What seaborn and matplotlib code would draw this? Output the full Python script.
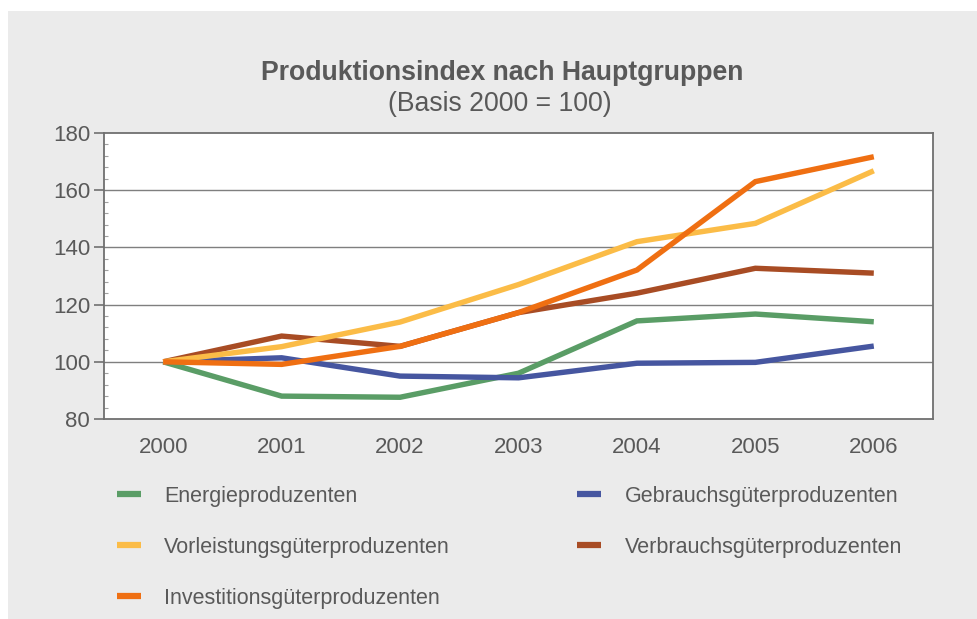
import matplotlib
matplotlib.use("Agg")
import matplotlib.pyplot as plt
from matplotlib.patches import Rectangle
from matplotlib.lines import Line2D
from matplotlib.ticker import MultipleLocator
import seaborn as sns
import pandas as pd

years = [2000, 2001, 2002, 2003, 2004, 2005, 2006]
energie = [100, 88.0, 87.6, 96.0, 114.3, 116.7, 114.0]
vorleistung = [100, 105.3, 113.9, 127.0, 142.0, 148.4, 166.8]
investition = [100, 99.1, 105.4, 117.2, 132.1, 163.0, 171.7]
gebrauch = [100, 101.4, 95.0, 94.4, 99.5, 99.8, 105.5]
verbrauch = [100, 109.0, 105.4, 117.2, 124.0, 132.7, 131.0]

series_names = ["Energieproduzenten", "Vorleistungsgüterproduzenten",
                "Investitionsgüterproduzenten", "Gebrauchsgüterproduzenten",
                "Verbrauchsgüterproduzenten"]
series_values = [energie, vorleistung, investition, gebrauch, verbrauch]
colors = ["#5a9d66", "#fbbc47", "#ef6f12", "#4656a0", "#a84c24"]
draw_order = ["Energieproduzenten", "Gebrauchsgüterproduzenten",
              "Verbrauchsgüterproduzenten", "Vorleistungsgüterproduzenten",
              "Investitionsgüterproduzenten"]

title = "Produktionsindex nach Hauptgruppen"
subtitle = "(Basis 2000 = 100)"

rows = []
for name, vals in zip(series_names, series_values):
    for y, v in zip(years, vals):
        rows.append({"Jahr": y, "Index": v, "Gruppe": name})
df = pd.DataFrame(rows)

sns.set_style("white")
plt.rcParams["font.family"] = ["Liberation Sans", "DejaVu Sans"]

text_col = "#595959"
spine_col = "#707070"

fig = plt.figure(figsize=(9.77, 6.19), dpi=100, facecolor="white")
fig.patches.append(Rectangle((8 / 977, 0), 1 - 8 / 977, 1 - 11 / 619,
                             transform=fig.transFigure, facecolor="#ebebeb",
                             edgecolor="none", zorder=-10))

ax = fig.add_axes([104 / 977, (619 - 419) / 619, 829 / 977, 286 / 619])
ax.set_facecolor("white")

palette = dict(zip(series_names, colors))
sns.lineplot(data=df, x="Jahr", y="Index", hue="Gruppe", hue_order=draw_order,
             palette=palette, linewidth=3.9, legend=False, ax=ax,
             solid_capstyle="butt", solid_joinstyle="miter")

ax.set_xlim(years[0] - 0.5, years[-1] + 0.5)
ax.set_ylim(80, 180)
ax.set_xticks(years)
ax.set_xticklabels([str(y) for y in years])
ax.yaxis.set_major_locator(MultipleLocator(20))
ax.yaxis.set_minor_locator(MultipleLocator(4))
ax.set_xlabel("")
ax.set_ylabel("")

for gy in range(100, 180, 20):
    ax.axhline(gy, color="#7f7f7f", linewidth=1.0, zorder=0.5)

for s in ax.spines.values():
    s.set_color(spine_col)
    s.set_linewidth(1.3)

ax.tick_params(axis="x", length=0, pad=13, labelsize=16, labelcolor=text_col)
ax.tick_params(axis="y", which="major", direction="out", length=7, width=1.2,
               color=spine_col, pad=3, labelsize=16, labelcolor=text_col, left=True)
ax.tick_params(axis="y", which="minor", direction="in", length=3, width=0.8,
               color="#a0a0a0", left=True)

fig.text(502 / 977, 1 - 73 / 619, title, ha="center", va="center",
         fontsize=19.2, fontweight="bold", color=text_col)
fig.text(500 / 977, 1 - 104 / 619, subtitle, ha="center", va="center",
         fontsize=19.2, color=text_col)

handles = [Line2D([0], [0], color=c, linewidth=4.5, solid_capstyle="butt")
           for c in colors]
leg = fig.legend(handles, series_names, ncol=2, loc="upper left",
                 bbox_to_anchor=(117 / 977, 1 - 486 / 619), frameon=False,
                 fontsize=15.5, handlelength=1.1, handletextpad=1.1,
                 labelspacing=1.39, columnspacing=5.9, borderpad=0,
                 borderaxespad=0)
for t in leg.get_texts():
    t.set_color(text_col)

fig.savefig("out.png", dpi=100, facecolor="white")
